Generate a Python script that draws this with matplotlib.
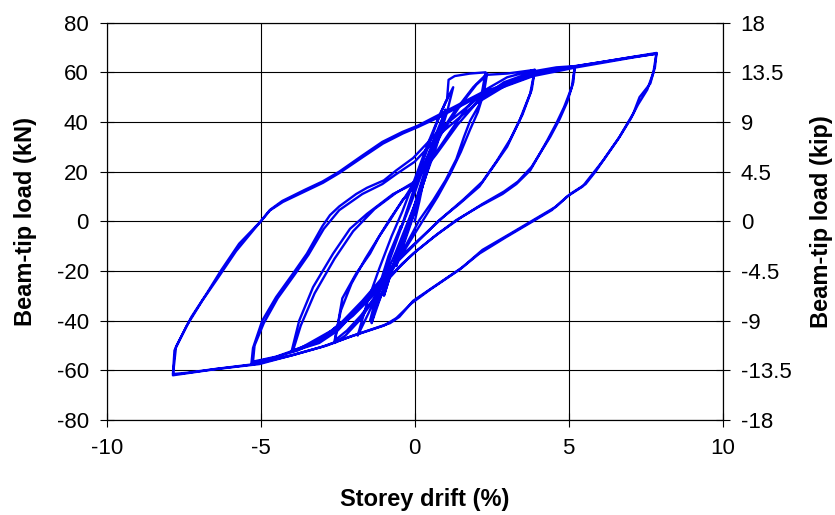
import matplotlib
matplotlib.use("Agg")
import matplotlib.pyplot as plt
import numpy as np

plt.rcParams['font.family'] = ['Liberation Sans', 'DejaVu Sans']
plt.rcParams['axes.unicode_minus'] = False

# cycles: storey drift (%) and beam-tip load (kN)
cycle_a_drift = [0.0, 0.15, 0.3, 0.15, -0.1, -0.35, -0.6, -0.4, -0.2]
cycle_a_load = [0, 8, 17, 11, 0, -9, -18, -10, -2]

cycle_b_drift = [-0.2, 0.1, 0.4, 0.65, 0.45, 0.1, -0.3, -0.65, -1.0, -0.75, -0.45, -0.2]
cycle_b_load = [-2, 11, 23, 32, 24, 10, -4, -16, -30, -20, -9, -2]

cycle_c_drift = [-0.2, 0.2, 0.55, 0.85, 1.0, 0.8, 0.45, 0.05, -0.4, -0.85, -1.15, -1.4,
                 -1.15, -0.8, -0.45, -0.1, 0.3, 0.65, 0.95, 0.75, 0.4, 0.0, -0.45,
                 -0.9, -1.2, -1.45, -1.2, -0.85, -0.45]
cycle_c_load = [-2, 14, 28, 39, 45, 36, 22, 6, -9, -22, -32, -41, -29, -15, -3, 8, 22,
                34, 43, 34, 20, 4, -11, -24, -33, -40, -28, -14, -2]

cycle_d_drift = [-0.45, -0.05, 0.35, 0.7, 1.0, 1.25, 1.05, 0.7, 0.3, -0.15, -0.6, -1.05,
                 -1.5, -1.85, -1.55, -1.15, -0.75, -0.4]
cycle_d_load = [-3, 12, 27, 39, 48, 54, 44, 30, 16, 2, -12, -25, -37, -46, -33, -19, -6, 4]

cycle_e_drift = [-0.4, 0.0, 0.45, 0.85, 1.05, 1.1, 1.3, 1.8, 2.3, 2.2, 2.1, 1.8, 1.6, 1.35,
                 1.0, 0.6, 0.15, -0.3, -0.8, -1.3, -1.8, -2.25, -2.6, -2.35, -1.9, -1.45,
                 -1.15, -0.8, -0.4, 0.0, 0.6, 1.25, 1.9, 2.35]
cycle_e_load = [4, 17, 32, 44, 49, 57, 58.5, 59.5, 60, 53, 47, 40.5, 34, 25, 16.5, 8.5, 0.5,
                -10, -21, -31, -40, -46, -49, -31, -21, -13, -6, 0.5, 8.5, 14, 31, 43.5,
                54, 59.5]

cycle_e2_drift = [2.35, 2.25, 2.05, 1.8, 1.5, 1.15, 0.75, 0.3, -0.2, -0.7, -1.2, -1.75,
                  -2.2, -2.6, -2.4, -2.05, -1.6, -1.2, -0.8, -0.3, 0.3, 0.9, 1.5, 2.0, 2.35]
cycle_e2_load = [59.5, 52, 44, 37, 28, 19, 10, 1, -9, -19, -29, -38, -44, -48, -36, -25,
                 -15, -7, 1, 10, 22, 36, 47, 55, 59]

cycle_f_drift = [2.35, 3.0, 3.9, 3.75, 3.4, 3.0, 2.55, 2.1, 1.45, 0.8, 0.15, -0.5, -1.2,
                 -1.9, -2.5, -3.1, -4.0, -3.75, -3.3, -2.65, -2.1, -1.55, -0.7, -0.05, 0.6,
                 1.2, 1.7, 2.3, 3.0, 3.9]
cycle_f_load = [59, 59.5, 61, 51.5, 40.5, 30, 22, 14, 7, 0.5, -7.5, -15.5, -26, -36,
                -44, -49, -52.5, -40, -26.5, -13, -3, 3, 11, 15, 26, 37, 46, 53, 58, 61]

cycle_f2_drift = [3.9, 3.8, 3.5, 3.1, 2.65, 2.2, 1.6, 0.95, 0.3, -0.35, -1.0, -1.7, -2.4,
                  -3.1, -3.95, -3.7, -3.25, -2.6, -2.0, -1.3, -0.6, 0.0, 0.7, 1.4, 2.1,
                  2.9, 3.9]
cycle_f2_load = [61, 53, 43, 33, 24, 16, 9, 2, -5.5, -13, -22, -32, -41, -48, -52, -42,
                 -29, -15, -4, 5, 11.5, 16, 27, 39, 49, 56, 60.5]

cycle_g_drift = [3.9, 4.6, 5.2, 5.1, 4.85, 4.6, 4.3, 4.05, 3.75, 3.3, 2.85, 2.1, 1.35, 0.6,
                 -0.05, -0.5, -1.2, -2.0, -2.8, -3.8, -4.6, -5.3, -5.25, -4.95, -4.5,
                 -3.95, -3.5, -3.0, -2.75, -2.45, -1.9, -1.55, -1.0, -0.6, -0.05, 0.9,
                 2.0, 3.0, 4.0, 5.2]
cycle_g_load = [60.5, 62, 62.5, 54, 46, 39.5, 32.5, 27, 20.5, 15, 11, 6, 0.5, -6.5, -13,
                -18.5, -28, -38, -46, -52, -55, -57, -51, -40, -30.5, -21, -13, -2, 2.5,
                6, 11, 13.5, 16.5, 20.5, 25.5, 38, 49, 56, 60, 62.5]

cycle_g2_drift = [5.2, 5.15, 4.95, 4.7, 4.4, 4.1, 3.8, 3.35, 2.9, 2.2, 1.5, 0.75, 0.1,
                  -0.4, -1.1, -1.9, -2.7, -3.7, -4.5, -5.25, -5.2, -4.9, -4.45, -3.9,
                  -3.45, -2.95, -2.45, -1.7, -1.05, -0.6, 0.0, 0.9, 2.0, 3.0, 4.0, 5.2]
cycle_g2_load = [62.5, 56, 48, 41, 34, 28, 22, 16, 12, 7, 1.5, -5, -11.5, -17, -26, -36,
                 -44, -51, -54.5, -56.5, -50, -41, -31, -21.5, -13.5, -3, 4.5, 11, 15,
                 19, 24, 36, 47.5, 55, 59.5, 62.5]

cycle_h_drift = [5.2, 6.0, 7.0, 7.85, 7.8, 7.65, 7.3, 7.1, 6.65, 6.2, 5.9, 5.55, 5.05, 4.6,
                 3.85, 3.1, 2.2, 1.55, 0.6, -0.05, -0.5, -0.8, -2.0, -2.85, -3.85, -5.05,
                 -6.45, -7.3, -7.85, -7.75, -7.25, -6.75, -6.3, -5.7, -5.0, -4.7, -4.3,
                 -3.55, -3.0, -2.45, -1.7, -1.05, -0.4, 0.1, 0.8, 2.2, 3.85, 5.25, 7.1, 7.85]
cycle_h_load = [62.5, 64, 66, 67.5, 62, 55.5, 50, 43.5, 34, 26, 20.5, 15, 11, 6, 0.5, -5,
                -11.5, -18.5, -26.5, -32, -38.5, -41, -46, -50, -53.5, -57.5, -59.5, -61,
                -62, -50.5, -38.5, -29, -20, -9, 0, 4.6, 8.2, 12.8, 16, 20, 26.5, 32, 36,
                38.5, 43, 52, 59, 62.5, 66.3, 67.8]

cycle_h2_drift = [7.85, 7.75, 7.55, 7.25, 7.0, 6.6, 6.15, 5.8, 5.45, 4.95, 4.45, 3.7, 2.95,
                  2.1, 1.45, 0.5, -0.1, -0.6, -1.0, -2.1, -3.0, -4.0, -5.2, -6.5, -7.4,
                  -7.85, -7.8, -7.4, -6.9, -6.4, -5.8, -5.2, -4.7, -4.28, -3.52, -2.98,
                  -2.44, -1.68, -1.03, -0.38, 0.11, 0.8, 2.2, 3.85, 5.25, 7.1, 7.85]
cycle_h2_load = [67.8, 60, 53, 47, 41, 33, 25, 19.5, 14, 10, 4.5, -1, -6.5, -13, -19.5,
                 -27.5, -33, -39, -42, -46.5, -50.5, -54, -57.5, -59.5, -61, -61.5, -52,
                 -42, -32, -23, -12, -3, 4.4, 7.8, 12.3, 15.5, 19.5, 25.9, 31.3, 35.4, 38,
                 42, 51, 58.5, 62, 66, 67.5]

kn_ticks = [-80, -60, -40, -20, 0, 20, 40, 60, 80]
kip_ticks = [-18, -13.5, -9, -4.5, 0, 4.5, 9, 13.5, 18]
kip_labels = ['-18', '-13.5', '-9', '-4.5', '0', '4.5', '9', '13.5', '18']
drift_ticks = [-10, -5, 0, 5, 10]

drift = np.concatenate([cycle_a_drift, cycle_b_drift, cycle_c_drift, cycle_d_drift,
                        cycle_e_drift, cycle_e2_drift, cycle_f_drift, cycle_f2_drift,
                        cycle_g_drift, cycle_g2_drift, cycle_h_drift, cycle_h2_drift])
load = np.concatenate([cycle_a_load, cycle_b_load, cycle_c_load, cycle_d_load,
                       cycle_e_load, cycle_e2_load, cycle_f_load, cycle_f2_load,
                       cycle_g_load, cycle_g2_load, cycle_h_load, cycle_h2_load])

fig = plt.figure(figsize=(8.35, 5.15), dpi=100)
ax = fig.add_axes([0.1278, 0.1845, 0.7377, 0.7715])
ax.plot(drift, load, color='#0000f0', lw=1.7, zorder=3)

ax.set_xlim(-10, 10)
ax.set_ylim(-80, 80)
ax.set_xticks(drift_ticks)
ax.set_yticks(kn_ticks)
ax.grid(True, color='black', lw=0.8)
for s in ax.spines.values():
    s.set_color('black')
    s.set_linewidth(0.8)
ax.tick_params(direction='inout', length=10, width=0.8, labelsize=16, pad=8)

ax2 = ax.twinx()
ax2.set_ylim(-18, 18)
ax2.set_yticks(kip_ticks)
ax2.set_yticklabels(kip_labels)
ax2.tick_params(direction='inout', length=10, width=0.8, labelsize=16, pad=8)

ax.set_xlabel('Storey drift (%)', fontsize=17, fontweight='bold')
ax.set_ylabel('Beam-tip load (kN)', fontsize=17, fontweight='bold')
ax2.set_ylabel('Beam-tip load (kip)', fontsize=17, fontweight='bold')
ax.xaxis.set_label_coords(0.517, -0.17)
ax.yaxis.set_label_coords(-0.113, 0.5)
ax2.yaxis.set_label_coords(1.142, 0.5)

fig.savefig('out.png', dpi=100)
